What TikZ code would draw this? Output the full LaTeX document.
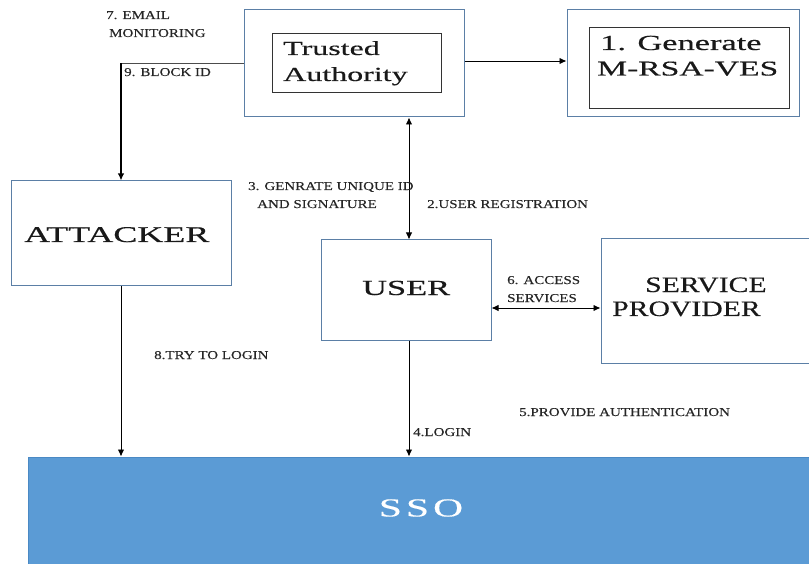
\documentclass[tikz,border=0pt]{standalone}
\usepackage{fontspec}
\setmainfont{Liberation Serif}
\newfontfamily\lblfont{Liberation Serif}[FakeStretch=1.25, FakeBold=0.2]
\newfontfamily\bigfont{Liberation Serif}[FakeStretch=1.6, FakeBold=0.4]
\newfontfamily\spfont{Liberation Serif}[FakeStretch=1.35, FakeBold=0.4]
\usetikzlibrary{arrows.meta}
\definecolor{boxedge}{HTML}{5B7FA6}
\definecolor{ssofill}{HTML}{5B9BD5}
\definecolor{ssoedge}{HTML}{4A89C4}
\tikzset{
  box/.style={draw=boxedge, line width=1pt, fill=white, inner sep=0pt},
  innerbox/.style={draw=black!80, line width=0.8pt, inner sep=0pt},
  lbl/.style={anchor=base west, inner sep=0pt, text=black!85, font=\lblfont\fontsize{12}{14}\selectfont},
  big/.style={anchor=base west, inner sep=0pt, text=black!90, font=\bigfont\fontsize{20}{24}\selectfont},
  arr/.style={-{Latex[length=7pt,width=6.5pt]}, line width=0.9pt, black},
  darr/.style={{Latex[length=7pt,width=6.5pt]}-{Latex[length=7pt,width=6.5pt]}, line width=0.9pt, black}
}
\begin{document}
\begin{tikzpicture}[x=1pt,y=-1pt]
\useasboundingbox (0,0) rectangle (809,564);
\clip (0,0) rectangle (809,564);

% boxes
\node[box, minimum width=220pt, minimum height=107pt] (ta) at (354,63.5) {};
\node[innerbox, minimum width=169pt, minimum height=59pt] (tain) at (356.5,62.5) {};
\node[box, minimum width=232pt, minimum height=107pt] (gen) at (683,63.5) {};
\node[innerbox, minimum width=200pt, minimum height=81pt] (genin) at (689,67.5) {};
\node[box, minimum width=220pt, minimum height=105pt] (att) at (121,233.5) {};
\node[box, minimum width=170pt, minimum height=100pt] (user) at (406,290) {};
\node[box, minimum width=215pt, minimum height=124pt] (sp) at (708.5,301) {};
\node[draw=ssoedge, fill=ssofill, line width=1pt, minimum width=790pt, minimum height=112pt, inner sep=0pt] (sso) at (423,513) {};

% box texts
\node[big] (tat1) at (283,55) {Trusted};
\node[big] (tat2) at (283,81) {Authority};
\node[big, font=\bigfont\fontsize{21.5}{24}\selectfont] (gent1) at (600,50) {1. Generate};
\node[big, font=\bigfont\fontsize{21}{24}\selectfont] (gent2) at (597,75.5) {M-RSA-VES};
\node[big, font=\bigfont\fontsize{22.5}{24}\selectfont] (attt) at (24,242) {ATTACKER};
\node[big, font=\bigfont\fontsize{21.5}{24}\selectfont] (usert) at (362,295) {USER};
\node[big, font=\spfont\fontsize{22}{24}\selectfont] (spt1) at (645,292) {SERVICE};
\node[big, font=\spfont\fontsize{22}{24}\selectfont] (spt2) at (612,316) {PROVIDER};
\node[inner sep=0pt, text=white, font=\bigfont\fontsize{26}{28}\selectfont] (ssot) at (421,508) {S\kern4pt S\kern4pt O};

% connectors
\coordinate (xu) at (409,0);
\coordinate (ysp) at (0,308);
\coordinate (bend) at (att.north |- ta.west);
\draw[arr] (ta.east |- 0,61) -- (gen.west |- 0,61);
\draw[line width=0.8pt, black!70] (ta.west) -- (bend);
\draw[arr, line width=1.8pt] (bend) -- (att.north);
\draw[darr] (ta.south -| xu) -- (user.north -| xu);
\draw[darr] (user.east |- ysp) -- (sp.west |- ysp);
\draw[arr] (att.south) -- (sso.north -| att.south);
\draw[arr] (user.south -| xu) -- (sso.north -| xu);

% labels
\node[lbl] (l7a) at (106,19) {7. EMAIL};
\node[lbl] (l7b) at (109,37) {MONITORING};
\node[lbl] (l9) at (124,76) {9. BLOCK ID};
\node[lbl] (l3a) at (248,190) {3. GENRATE UNIQUE ID};
\node[lbl] (l3b) at (257,208) {AND SIGNATURE};
\node[lbl] (l2) at (427,208) {2.USER REGISTRATION};
\node[lbl] (l6a) at (507,284) {6. ACCESS};
\node[lbl] (l6b) at (507,302) {SERVICES};
\node[lbl] (l8) at (154,359) {8.TRY TO LOGIN};
\node[lbl] (l5) at (519,416) {5.PROVIDE AUTHENTICATION};
\node[lbl] (l4) at (413,436) {4.LOGIN};
\end{tikzpicture}
\end{document}
